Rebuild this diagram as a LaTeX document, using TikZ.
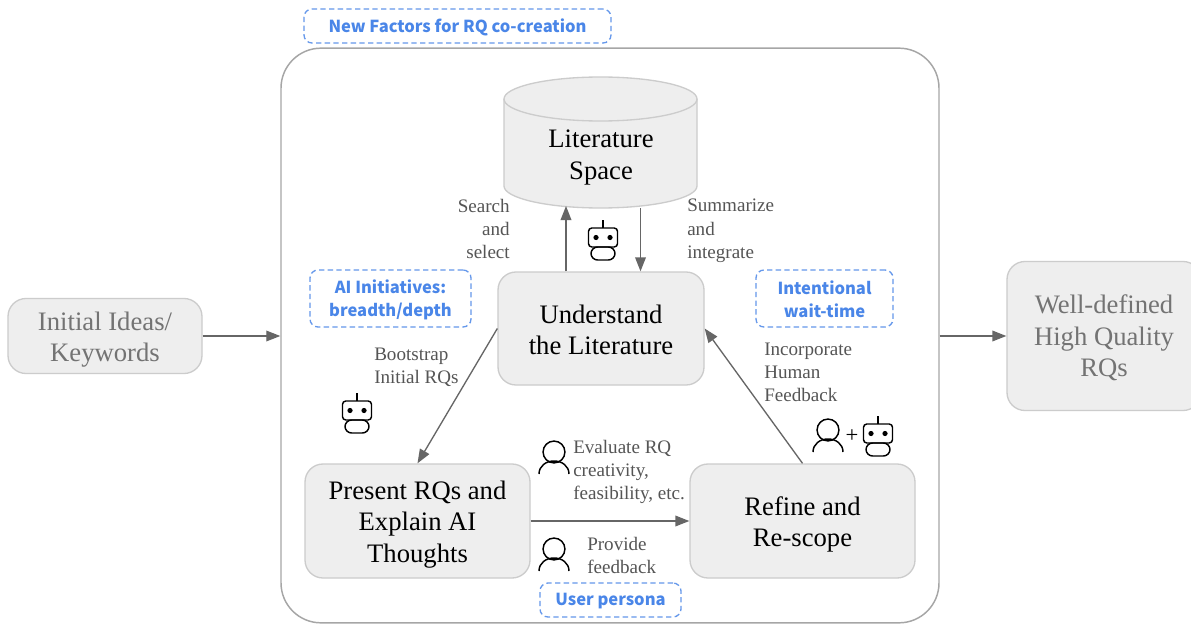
\documentclass[tikz,border=0pt]{standalone}
\usepackage{fontspec}
\setmainfont{Liberation Serif}
\newfontfamily\bluefont{Noto Sans CJK SC}
\usetikzlibrary{arrows.meta}
\definecolor{boxfill}{HTML}{EEEEEE}
\definecolor{boxline}{HTML}{CCCCCC}
\definecolor{arrowc}{HTML}{666666}
\definecolor{labelc}{HTML}{555555}
\definecolor{bluec}{HTML}{4A86E8}
\tikzset{
  x=0.75pt,y=-0.75pt,
  box/.style={draw=boxline,fill=boxfill,line width=1pt,rounded corners=13.5pt,inner sep=0pt},
  boxtext/.style={align=center,font=\fontsize{20}{23.6}\selectfont,text=black,inner sep=0pt,yshift=-2.6pt},
  graytext/.style={boxtext,text=black!55},
  arr/.style={draw=arrowc,line width=1pt,-{Stealth[length=10.5pt,width=8pt,inset=0pt]}},
  lab/.style={font=\fontsize{14.3}{17.4}\selectfont,text=labelc,inner sep=0pt},
  factor/.style={draw=bluec!85,dashed,dash pattern=on 4pt off 2.5pt,line width=1pt,rounded corners=6pt,inner sep=0pt},
  factortext/.style={inner sep=0pt,align=center,text=bluec,yshift=-0.8pt,font=\bluefont\bfseries\fontsize{12.4}{17.25}\selectfont},
  ico/.style={draw=black,line width=1.1pt,fill=none},
  robot/.pic={
    \draw[ico,line width=1.8pt] (0,-20) -- (0,-12);
    \draw[ico,rounded corners=2.5pt] (-14.5,-12) rectangle (14.5,7);
    \fill (-7,-2.5) circle (2.6);
    \fill (7,-2.5) circle (2.6);
    \draw[ico,rounded corners=5pt] (-12,7) rectangle (12,20);
  },
  person/.pic={
    \draw[ico] (0,-12) circle (8.2pt);
    \draw[ico] (-15,10) .. controls (-15,2) and (-8,-3) .. (0,-3) .. controls (8,-3) and (15,2) .. (15,10);
  }
}
\begin{document}
\begin{tikzpicture}
\useasboundingbox (0,0) rectangle (1191,624);
\fill[white] (0,0) rectangle (1191,624);
% outer frame
\node[draw=black!35,line width=1.1pt,rounded corners=30pt,inner sep=0pt,minimum width=493.5pt,minimum height=431pt] (frame) at (610,335.5) {};
% cylinder
\path[draw=boxline,fill=boxfill,line width=1pt]
  (504,99) -- (504,186) arc[start angle=180,end angle=360,x radius=96.5,y radius=-22] -- (697,99)
  arc[start angle=0,end angle=180,x radius=96.5,y radius=-22] -- cycle;
\draw[boxline,line width=1pt] (504,99) arc[start angle=180,end angle=360,x radius=96.5,y radius=-22];
\node[boxtext,yshift=0pt] (lit) at (601,154) {Literature\\Space};
\coordinate (litS1) at (566,206);
\coordinate (litS2) at (640.5,208);
% process boxes
\node[box,minimum width=154.5pt,minimum height=84.75pt,label={[boxtext,yshift=1.5pt]center:{Understand\\the Literature}}] (und) at (601,328.5) {};
\node[box,minimum width=168.75pt,minimum height=85.5pt,label={[boxtext]center:{Present RQs and\\Explain AI\\Thoughts}}] (pres) at (417.5,521) {};
\node[box,minimum width=168.75pt,minimum height=85.5pt,label={[boxtext]center:{Refine and\\Re-scope}}] (ref) at (802.5,521) {};
\node[box,minimum width=145.5pt,minimum height=56.25pt,label={[graytext]center:{Initial Ideas/\\Keywords}}] (init) at (105,336) {};
\node[box,minimum width=145.5pt,minimum height=111.75pt,label={[graytext,yshift=1pt]center:{Well-defined\\High Quality\\RQs}}] (well) at (1104,336) {};
% connectors
\draw[arr] (und.north -| litS1) -- (litS1);
\draw[arr] (litS2) -- (litS2 |- und.north);
\draw[arr] (und.west) -- (pres.north);
\draw[arr] (ref.north) -- (und.east);
\draw[arr] (pres.east) -- (ref.west);
\draw[arr] (init.east) -- (frame.west |- init.east);
\draw[arr] (frame.east |- well.west) -- (well.west);
% labels
\node[lab,anchor=north east,align=right] (l1) at (510,199) {Search\\and\\select};
\node[lab,anchor=north west,align=left] (l2) at (687,199) {Summarize\\and\\integrate};
\node[lab,anchor=north west,align=left] (l3) at (374,348) {Bootstrap\\Initial RQs};
\node[lab,anchor=north west,align=left] (l4) at (764,342.5) {Incorporate\\Human\\Feedback};
\node[lab,anchor=north west,align=left] (l5) at (573,439.5) {Evaluate RQ\\creativity,\\feasibility, etc.};
\node[lab,anchor=north west,align=left] (l6) at (587,536.5) {Provide\\feedback};
% factors
\node[factor,minimum width=230.25pt,minimum height=25.5pt,label={[factortext]center:{New Factors for RQ co-creation}}] (f1) at (457.5,26) {};
\node[factor,minimum width=120.75pt,minimum height=42.75pt,label={[factortext]center:{AI Initiatives:\\breadth/depth}}] (f2) at (390.5,298.5) {};
\node[factor,minimum width=102.75pt,minimum height=42.75pt,label={[factortext]center:{Intentional\\wait-time}}] (f3) at (824.5,298.5) {};
\node[factor,minimum width=105.75pt,minimum height=25.5pt,label={[factortext]center:{User persona}}] (f4) at (610.5,600) {};
% icons
\pic at (603,240) {robot};
\pic at (357,413) {robot};
\pic at (878,436) {robot};
\pic at (554,464) {person};
\pic at (554,561) {person};
\pic at (828,442) {person};
\node[font=\fontsize{17}{17}\selectfont,text=black,inner sep=0pt] (plus) at (852,436) {+};
\end{tikzpicture}
\end{document}
